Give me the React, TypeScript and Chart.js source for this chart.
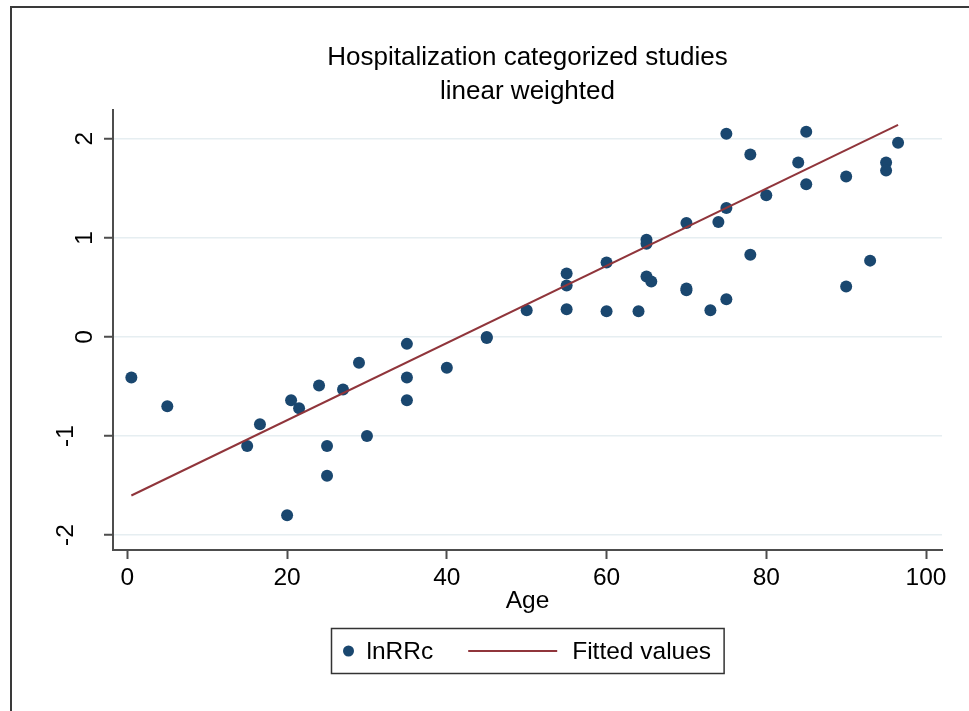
import React, { useEffect, useRef } from "react";
import { Chart, registerables } from "chart.js";

Chart.register(...registerables);

// ---- data ----
const ageX = [0.5, 5, 15, 16.6, 20, 20.5, 21.5, 24, 25, 25, 27, 29, 30, 35, 35, 35, 40, 45, 45, 50, 55, 55, 55, 60, 60, 64, 65, 65, 65, 65.6, 70, 70, 70, 73, 74, 75, 75, 75, 78, 78, 80, 84, 85, 85, 90, 90, 93, 95, 95, 96.5];
const lnRRc = [-0.41, -0.7, -1.1, -0.88, -1.8, -0.64, -0.72, -0.49, -1.1, -1.4, -0.53, -0.26, -1.0, -0.07, -0.41, -0.64, -0.31, -0.01, 0.0, 0.27, 0.64, 0.52, 0.28, 0.75, 0.26, 0.26, 0.98, 0.94, 0.61, 0.56, 1.15, 0.47, 0.49, 0.27, 1.16, 2.05, 1.3, 0.38, 1.84, 0.83, 1.43, 1.76, 2.07, 1.54, 1.62, 0.51, 0.77, 1.76, 1.68, 1.96];
const fitX = [0.5, 96.5];
const fitY = [-1.6, 2.14];
const xTicks = [0, 20, 40, 60, 80, 100];
const yTicks = [-2, -1, 0, 1, 2];
const titleLines = ["Hospitalization categorized studies", "linear weighted"];
const xTitle = "Age";
const seriesNames = ["lnRRc", "Fitted values"];

const NAVY = "#1a476f";
const MAROON = "#90353b";
const AXIS = "#4d4d4d";
const GRID = "#e6eef1";
const FONT = '"Liberation Sans", Arial, Helvetica, sans-serif';

const boxLegend = {
  id: "boxLegend",
  afterDraw(chart: any) {
    const ctx = chart.ctx;
    const { left, right } = chart.chartArea;
    const ds = chart.data.datasets;
    ctx.save();
    ctx.font = `24.5px ${FONT}`;
    const w1 = ctx.measureText(ds[0].label).width;
    const w2 = ctx.measureText(ds[1].label).width;
    const total = 35 + w1 + 35 + 89 + 15 + w2 + 13;
    const x0 = Math.round((left + right) / 2 - total / 2) + 0.5;
    const y0 = Math.round(chart.scales.x.bottom + 8) + 0.5;
    const h = 45;
    const cy = y0 + h / 2;
    ctx.strokeStyle = "#333333";
    ctx.lineWidth = 1.5;
    ctx.strokeRect(x0, y0, total, h);
    ctx.fillStyle = ds[0].backgroundColor;
    ctx.beginPath();
    ctx.arc(x0 + 17, cy, 5.5, 0, Math.PI * 2);
    ctx.fill();
    ctx.fillStyle = "#000";
    ctx.textBaseline = "middle";
    ctx.textAlign = "left";
    ctx.fillText(ds[0].label, x0 + 35, cy + 1);
    const lx = x0 + 35 + w1 + 35;
    ctx.strokeStyle = ds[1].borderColor;
    ctx.lineWidth = 2;
    ctx.beginPath();
    ctx.moveTo(lx, cy);
    ctx.lineTo(lx + 89, cy);
    ctx.stroke();
    ctx.fillText(ds[1].label, lx + 89 + 15, cy + 1);
    ctx.restore();
  },
};

export default function App() {
  const ref = useRef<HTMLCanvasElement>(null);
  useEffect(() => {
    if (!ref.current) return;
    Chart.defaults.font.family = FONT;
    Chart.defaults.color = "#000";
    const chart = new Chart(ref.current, {
      type: "scatter",
      data: {
        datasets: [
          {
            label: seriesNames[0],
            data: ageX.map((x, i) => ({ x, y: lnRRc[i] })),
            backgroundColor: NAVY,
            borderColor: NAVY,
            pointRadius: 6,
            pointBorderWidth: 0,
            order: 1,
          },
          {
            type: "line",
            label: seriesNames[1],
            data: fitX.map((x, i) => ({ x, y: fitY[i] })),
            borderColor: MAROON,
            backgroundColor: MAROON,
            borderWidth: 2,
            pointRadius: 0,
            showLine: true,
            fill: false,
            order: 0,
          } as any,
        ],
      },
      options: {
        responsive: false,
        animation: false,
        layout: { padding: { left: 20, right: 27, top: 0, bottom: 91 } },
        plugins: {
          legend: { display: false },
          tooltip: { enabled: false },
          title: {
            display: true,
            fullSize: false,
            text: titleLines,
            color: "#000",
            font: { size: 26, weight: "normal", lineHeight: 1.3 },
            padding: { top: 41, bottom: 1.4 },
          },
        },
        scales: {
          x: {
            type: "linear",
            min: -1.8,
            max: 102,
            afterBuildTicks: (s: any) => {
              s.ticks = xTicks.map((v) => ({ value: v }));
            },
            afterFit: (s: any) => {
              s.height = 70;
            },
            ticks: { font: { size: 24.5 }, color: "#000", padding: 5, maxRotation: 0 },
            grid: { drawOnChartArea: false, tickColor: AXIS, tickWidth: 2, tickLength: 9 },
            border: { color: AXIS, width: 2 },
            title: { display: true, text: xTitle, font: { size: 24.5 }, color: "#000", padding: { top: 0, bottom: 4 } },
          },
          y: {
            type: "linear",
            min: -2.15,
            max: 2.29,
            afterBuildTicks: (s: any) => {
              s.ticks = yTicks.map((v) => ({ value: v }));
            },
            afterFit: (s: any) => {
              s.width = 93;
            },
            ticks: {
              font: { size: 24.5, lineHeight: 1.55 },
              color: "#000",
              padding: 8,
              minRotation: 90,
              maxRotation: 90,
              crossAlign: "center",
              callback: (v: any) => (Number(v) < 0 ? [String(v), ""] : String(v)),
            },
            grid: { color: GRID, lineWidth: 1.5, tickColor: AXIS, tickWidth: 2, tickLength: 9 },
            border: { color: AXIS, width: 2 },
          },
        },
      },
      plugins: [boxLegend],
    });
    return () => chart.destroy();
  }, []);

  return (
    <div style={{ position: "fixed", left: 0, top: 0, width: 969, height: 711, background: "#fff", overflow: "hidden" }}>
      <div
        style={{
          position: "absolute",
          left: 10,
          top: 6,
          width: 2000,
          height: 2000,
          borderTop: "2px solid #3a3a3a",
          borderLeft: "2px solid #3a3a3a",
        }}
      />
      <canvas ref={ref} width={969} height={711} style={{ position: "absolute", left: 0, top: 0, width: 969, height: 711 }} />
    </div>
  );
}
